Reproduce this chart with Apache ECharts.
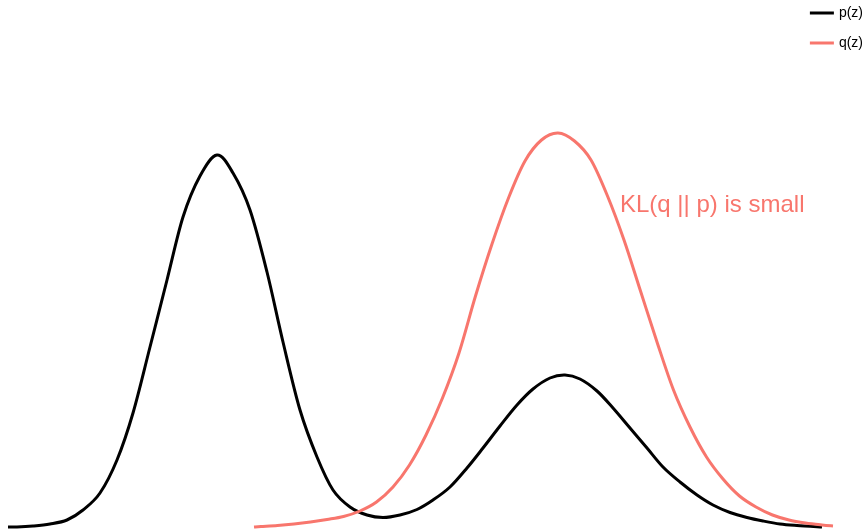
<!DOCTYPE html>
<html>
<head>
<meta charset="utf-8">
<script src="https://cdn.jsdelivr.net/npm/echarts@6/dist/echarts.min.js"></script>
<style>
html,body{margin:0;padding:0;background:#fff;}
#chart{width:867px;height:529px;}
</style>
</head>
<body>
<div id="chart"></div>
<script>
// z positions and curve heights (pixel rows, baseline 527)
const pZ = [8,17,33,50,67,83,100,117,133,150,167,183,200,217,233,250,267,283,300,317,333,350,367,383,400,417,433,450,467,483,500,517,533,550,565,580,597,613,630,647,663,680,697,713,730,747,763,780,797,822];
const pPy = [527,527,526,524,520,510,493,460,413,347,280,217,176,155,173,210,272,342,410,457,490,507,515,517.5,515,509.5,500,487,468,448,426,405,389,378,375,379,391,408,428,448,467,482,495,505,512.5,517.5,521,524,525.5,527];
const qZ = [254,261,277.5,294,310.5,327,343.5,360,376.5,393,409.5,426,442.5,459,475.5,492,508.5,525,541.5,558,574.5,591,607.5,624,640.5,657,673.5,690,706.5,723,739.5,756,772.5,789,805.5,822,833];
const qPy = [527,526.5,525.5,524,522,519.5,516.5,511,502,487,465,435,398,353,296,244,198,161,140,133,141,160,196,240,291,342,390,427,457,479,496,507,515,520,523,525,526];
const seriesNames = ['p(z)','q(z)'];
const colors = ['#000000','#F8766D'];
const annotation = 'KL(q || p) is small';
const BASE = 527;

const pData = pZ.map((z,i)=>[z, BASE - pPy[i]]);
const qData = qZ.map((z,i)=>[z, BASE - qPy[i]]);

// smooth curve through the data points (Catmull-Rom -> cubic Bezier), positioned via the axes
function curveRenderer(data, color){
  return function(params, api){
    if (params.dataIndexInside !== 0) return null;
    const pts = data.map(d => api.coord(d));
    const n = pts.length;
    let d = 'M' + pts[0][0] + ' ' + pts[0][1];
    for (let i = 0; i < n - 1; i++){
      const p0 = pts[Math.max(i-1,0)], p1 = pts[i], p2 = pts[i+1], p3 = pts[Math.min(i+2,n-1)];
      const c1x = p1[0] + (p2[0]-p0[0])/6, c1y = p1[1] + (p2[1]-p0[1])/6;
      const c2x = p2[0] - (p3[0]-p1[0])/6, c2y = p2[1] - (p3[1]-p1[1])/6;
      d += ' C' + c1x + ' ' + c1y + ' ' + c2x + ' ' + c2y + ' ' + p2[0] + ' ' + p2[1];
    }
    return {type:'path', shape:{pathData:d},
      style:{stroke:color, lineWidth:3, fill:null, lineJoin:'round', lineCap:'butt'}};
  };
}

const chart = echarts.init(document.getElementById('chart'));
chart.setOption({
  animation:false,
  backgroundColor:'#ffffff',
  grid:{left:0,right:0,top:0,height:527,containLabel:false},
  xAxis:{type:'value',min:0,max:867,show:false},
  yAxis:{type:'value',min:0,max:527,show:false},
  legend:{
    orient:'vertical', right:4, top:6, padding:0,
    itemWidth:24, itemHeight:3, itemGap:16,
    icon:'rect',
    textStyle:{fontFamily:'Liberation Sans, Arial, sans-serif',fontSize:14,color:'#000'},
    data:seriesNames
  },
  series:[
    {name:seriesNames[0],type:'custom',data:pData,clip:false,
     itemStyle:{color:colors[0]},renderItem:curveRenderer(pData,colors[0])},
    {name:seriesNames[1],type:'custom',data:qData,clip:false,
     itemStyle:{color:colors[1]},renderItem:curveRenderer(qData,colors[1])}
  ],
  graphic:[{
    type:'text', left:620, top:193,
    style:{text:annotation, fill:colors[1], font:'24px "Liberation Sans", Arial, sans-serif'}
  }]
});
</script>
</body>
</html>
